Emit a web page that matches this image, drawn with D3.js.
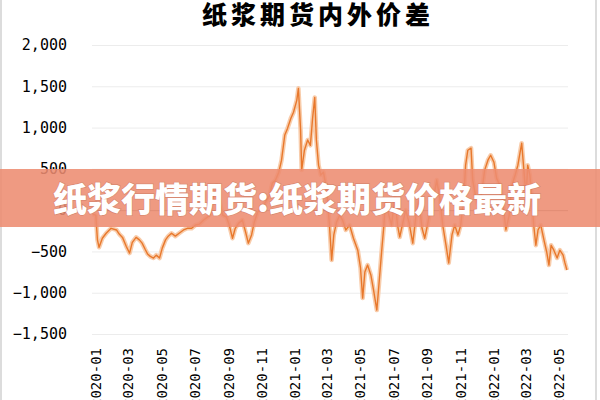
<!DOCTYPE html>
<html><head><meta charset="utf-8">
<script src="https://cdn.jsdelivr.net/npm/d3@7"></script>
<style>
html,body{margin:0;padding:0;background:#fff;}
svg{display:block;}
</style></head>
<body>
<svg id="c" width="600" height="400"></svg>
<script>
const title = "纸浆期货内外价差";
const bannerText = "纸浆行情期货:纸浆期货价格最新";
const yTicks = [-1500, -1000, -500, 0, 500, 1000, 1500, 2000];
const xTickLabels = ["2020-01","2020-03","2020-05","2020-07","2020-09","2020-11","2021-01","2021-03","2021-05","2021-07","2021-09","2021-11","2022-01","2022-03","2022-05"];
const dates = ["2019-12-27","2020-01-02","2020-01-05","2020-01-08","2020-01-14","2020-01-21","2020-01-30","2020-02-09","2020-02-14","2020-02-20","2020-02-27","2020-03-04","2020-03-09","2020-03-16","2020-03-22","2020-03-27","2020-04-02","2020-04-06","2020-04-11","2020-04-17","2020-04-22","2020-04-28","2020-05-03","2020-05-09","2020-05-14","2020-05-20","2020-05-27","2020-06-03","2020-06-11","2020-06-18","2020-06-26","2020-07-03","2020-07-10","2020-07-18","2020-07-25","2020-07-30","2020-08-05","2020-08-11","2020-08-16","2020-08-22","2020-08-29","2020-09-03","2020-09-09","2020-09-14","2020-09-20","2020-09-27","2020-10-03","2020-10-08","2020-10-14","2020-10-19","2020-10-25","2020-11-01","2020-11-09","2020-11-16","2020-11-21","2020-11-27","2020-12-03","2020-12-08","2020-12-14","2020-12-19","2020-12-25","2020-12-30","2021-01-05","2021-01-08","2021-01-12","2021-01-14","2021-01-19","2021-01-25","2021-01-30","2021-02-03","2021-02-07","2021-02-10","2021-02-14","2021-02-18","2021-02-23","2021-03-01","2021-03-06","2021-03-10","2021-03-14","2021-03-19","2021-03-25","2021-03-30","2021-04-05","2021-04-12","2021-04-19","2021-04-27","2021-05-02","2021-05-06","2021-05-10","2021-05-15","2021-05-21","2021-05-26","2021-06-01","2021-06-04","2021-06-10","2021-06-14","2021-06-17","2021-06-23","2021-06-28","2021-07-04","2021-07-09","2021-07-13","2021-07-19","2021-07-24","2021-07-30","2021-08-06","2021-08-12","2021-08-17","2021-08-23","2021-08-28","2021-09-03","2021-09-08","2021-09-14","2021-09-19","2021-09-25","2021-09-30","2021-10-06","2021-10-11","2021-10-17","2021-10-22","2021-10-28","2021-11-02","2021-11-08","2021-11-11","2021-11-15","2021-11-21","2021-11-24","2021-11-30","2021-12-05","2021-12-11","2021-12-16","2021-12-22","2021-12-27","2022-01-02","2022-01-07","2022-01-13","2022-01-18","2022-01-24","2022-01-30","2022-02-04","2022-02-10","2022-02-15","2022-02-19","2022-02-22","2022-02-26","2022-03-02","2022-03-05","2022-03-09","2022-03-13","2022-03-16","2022-03-20","2022-03-24","2022-03-29","2022-04-04","2022-04-09","2022-04-13","2022-04-17","2022-04-22","2022-04-28","2022-05-03","2022-05-09","2022-05-12","2022-05-16"];
const spread = [-50,-60,-360,-450,-340,-280,-220,-240,-290,-330,-440,-520,-390,-330,-360,-400,-480,-530,-560,-580,-545,-580,-460,-360,-315,-280,-315,-280,-240,-220,-220,-180,-170,-120,-85,-50,180,300,120,-60,-85,-180,-340,-220,-160,-120,-265,-400,-300,-145,-25,25,100,180,325,365,460,605,910,990,1110,1185,1330,1475,970,485,725,850,785,1110,1365,850,545,425,460,240,-180,-605,-300,-145,-60,-120,-240,-180,-340,-485,-700,-1065,-750,-665,-785,-970,-1210,-970,-485,-180,120,-60,-180,145,-180,-325,-145,0,-145,-400,-60,120,-220,-340,-145,25,180,365,120,-180,-425,-640,-300,-180,-300,-180,180,545,725,750,365,145,25,240,485,605,665,580,385,300,120,-240,-60,300,425,545,700,810,485,145,545,425,120,-180,-425,-240,-180,-365,-510,-665,-425,-485,-580,-485,-545,-630,-725];

const parse = d3.timeParse("%Y-%m-%d");
const parseM = d3.timeParse("%Y-%m");
const data = dates.map((d,i)=>({date:parse(d), v:spread[i]}));

const svg = d3.select("#c");
const x = d3.scaleTime().domain([parse("2019-12-26"), parse("2022-05-18")]).range([92, 568]);
const y = d3.scaleLinear().domain([-1500, 2000]).range([334, 45]);

// borders
svg.append("line").attr("x1",1).attr("x2",1).attr("y1",0).attr("y2",400).attr("stroke","#dcdcdc").attr("stroke-width",2);
svg.append("line").attr("x1",596).attr("x2",596).attr("y1",0).attr("y2",400).attr("stroke","#dcdcdc").attr("stroke-width",2);

// title
svg.append("text").attr("x",318).attr("y",24).attr("text-anchor","middle")
  .attr("font-family","'Noto Sans CJK SC'").attr("font-weight",900).attr("font-size",25)
  .attr("letter-spacing",4).attr("fill","#000").text(title);

// y axis with gridlines
const yAxis = d3.axisLeft(y).tickValues(yTicks).tickSize(-(568-92)).tickPadding(25)
  .tickFormat(d3.format(","));
const gy = svg.append("g").attr("transform","translate(92,0)").call(yAxis);
gy.select(".domain").remove();
gy.selectAll(".tick line").attr("stroke", d => d===0 ? "#8a8a8a" : "#ececec").attr("stroke-width",1);
gy.selectAll(".tick text").attr("font-family","'DejaVu Sans Mono'").attr("font-size",15).attr("fill","#000");

// x axis
const xAxis = d3.axisBottom(x).tickValues(xTickLabels.map(parseM)).tickSize(0)
  .tickFormat(d3.timeFormat("%Y-%m"));
const gx = svg.append("g").attr("transform","translate(0,345)").call(xAxis);
gx.select(".domain").remove();
gx.selectAll(".tick text").attr("font-family","'DejaVu Sans Mono'").attr("font-size",14).attr("fill","#000")
  .attr("text-anchor","end").attr("dy","0.35em").attr("transform","translate(0,3) rotate(-90)").attr("x",0).attr("y",0);

// line
const line = d3.line().x(d=>x(d.date)).y(d=>y(d.v));
svg.append("path").datum(data).attr("d",line).attr("fill","none").attr("stroke","#f7c7a2").attr("stroke-width",4.5).attr("stroke-linejoin","round").attr("opacity",0.9);
svg.append("path").datum(data).attr("d",line).attr("fill","none").attr("stroke","#e8782c").attr("stroke-width",1.4).attr("stroke-linejoin","round");

// banner
svg.append("rect").attr("x",0).attr("y",169).attr("width",600).attr("height",58).attr("fill","#ed8c71").attr("opacity",0.88);
svg.append("text").attr("x",297).attr("y",212).attr("text-anchor","middle")
  .attr("font-family","'Noto Sans CJK SC'").attr("font-weight",900).attr("font-size",34)
  .attr("fill","#fff").attr("style","paint-order:stroke").attr("stroke","rgba(120,60,40,0.2)").attr("stroke-width",1.5)
  .text(bannerText);
</script>
</body></html>
